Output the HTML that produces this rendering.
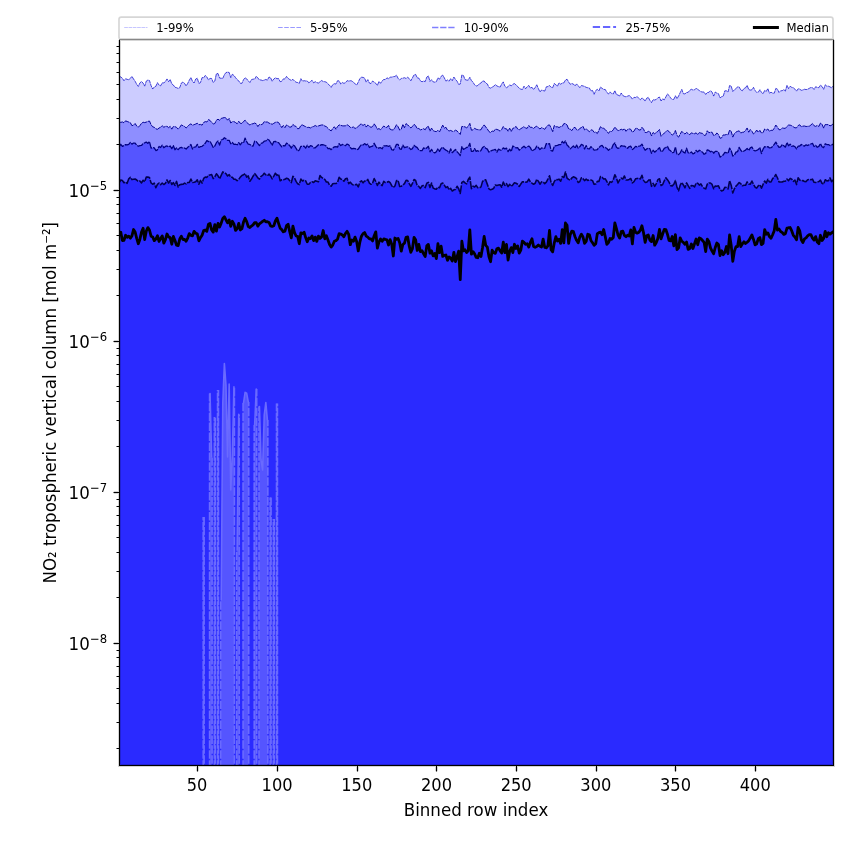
<!DOCTYPE html>
<html lang="en"><head><meta charset="utf-8"><title>NO2 tropospheric vertical column percentiles</title>
<style>html,body{margin:0;padding:0;background:#fff;overflow:hidden}svg{display:block}text{font-family:"DejaVu Sans","Liberation Sans",sans-serif;fill:#000}</style></head><body>
<svg width="850" height="850" viewBox="0 0 850 850">
<rect width="850" height="850" fill="#fff"/>
<clipPath id="ax"><rect x="119.0" y="39.4" width="714.0" height="725.6"/></clipPath>
<g clip-path="url(#ax)">
<path d="M119.19 76.25 L120.79 76.98 L122.38 78.27 L123.97 80.74 L125.57 78.74 L127.16 79.33 L128.76 79.74 L130.35 78.35 L131.94 76.4 L133.54 79 L135.13 81.24 L136.72 84.36 L138.32 86.43 L139.91 82.87 L141.51 81.53 L143.1 83.07 L144.69 86.14 L146.29 81.1 L147.88 80.06 L149.47 80.5 L151.07 85.59 L152.66 89.04 L154.26 87.01 L155.85 86.31 L157.44 82.65 L159.04 85.13 L160.63 85.84 L162.22 82.86 L163.82 82.85 L165.41 81.64 L167.01 78.93 L168.6 81.68 L170.19 79.47 L171.79 83.88 L173.38 85.04 L174.97 87.29 L176.57 87.68 L178.16 88.45 L179.76 87.65 L181.35 83.05 L182.94 82.04 L184.54 83.37 L186.13 85.92 L187.72 83.36 L189.32 80.16 L190.91 77.59 L192.51 81.27 L194.1 83.01 L195.69 79.08 L197.29 78.19 L198.88 83.39 L200.47 82.6 L202.07 77.58 L203.66 77.78 L205.26 75.44 L206.85 76.95 L208.44 79.88 L210.04 78.41 L211.63 78.49 L213.22 82.46 L214.82 81.01 L216.41 73.71 L218.01 73.53 L219.6 78.06 L221.19 78.24 L222.79 78.34 L224.38 74.72 L225.97 72.54 L227.57 72.19 L229.16 72.46 L230.76 77.63 L232.35 74.26 L233.94 75.46 L235.54 77.6 L237.13 79.66 L238.72 80.84 L240.32 83.27 L241.91 83.34 L243.51 79.69 L245.1 77.72 L246.69 78.9 L248.29 80.83 L249.88 82.52 L251.47 79.63 L253.07 79.14 L254.66 79.18 L256.26 76.25 L257.85 77.92 L259.44 79.93 L261.04 79.96 L262.63 80.58 L264.23 80.09 L265.82 79.46 L267.41 80.1 L269.01 77 L270.6 77.79 L272.19 81.19 L273.79 78.99 L275.38 77.86 L276.98 78.65 L278.57 78.57 L280.16 81.69 L281.76 81.24 L283.35 78.88 L284.94 78.94 L286.54 76.42 L288.13 78.39 L289.73 79.53 L291.32 80.44 L292.91 79.31 L294.51 81.06 L296.1 82.23 L297.69 82.55 L299.29 83.39 L300.88 78.67 L302.48 81.19 L304.07 80.67 L305.66 80.98 L307.26 80.93 L308.85 82.89 L310.44 81.62 L312.04 80.27 L313.63 82.83 L315.23 81.67 L316.82 82.62 L318.41 83.04 L320.01 81.77 L321.6 80.51 L323.19 81.51 L324.79 81.69 L326.38 82.13 L327.98 83.96 L329.57 85.28 L331.16 87.36 L332.76 84.63 L334.35 83.72 L335.94 84.06 L337.54 80.74 L339.13 80.95 L340.73 84.03 L342.32 82.54 L343.91 83.32 L345.51 82.69 L347.1 80.64 L348.69 81.1 L350.29 80.73 L351.88 80.98 L353.48 82.35 L355.07 83.75 L356.66 85 L358.26 82.15 L359.85 78.58 L361.44 77.28 L363.04 77.36 L364.63 78.18 L366.23 82.09 L367.82 79.64 L369.41 83.07 L371.01 83.5 L372.6 81.02 L374.19 82.18 L375.79 83.32 L377.38 85.42 L378.98 81.48 L380.57 83.31 L382.16 80.9 L383.76 79.53 L385.35 79.54 L386.94 77.84 L388.54 78.67 L390.13 77.21 L391.73 77.13 L393.32 76.66 L394.91 76.46 L396.51 75.18 L398.1 78.35 L399.69 79.96 L401.29 78.49 L402.88 78.18 L404.48 77.69 L406.07 78.51 L407.66 77.25 L409.26 78.62 L410.85 80.76 L412.44 77.84 L414.04 74.92 L415.63 74.41 L417.23 77.76 L418.82 78.11 L420.41 80.77 L422.01 81.8 L423.6 81.04 L425.19 81.6 L426.79 77.11 L428.38 75.93 L429.98 81.43 L431.57 79.68 L433.16 81.87 L434.76 82.16 L436.35 81.7 L437.94 77.8 L439.54 79.16 L441.13 76.35 L442.73 75.06 L444.32 77.86 L445.91 81.11 L447.51 80.01 L449.1 81.21 L450.69 78.68 L452.29 80.68 L453.88 77.04 L455.48 79.46 L457.07 81.18 L458.66 84.4 L460.26 84.04 L461.85 74.94 L463.44 75.59 L465.04 79.59 L466.63 80.05 L468.23 80.18 L469.82 77.27 L471.41 80.53 L473.01 82.2 L474.6 84.79 L476.19 86.01 L477.79 85.51 L479.38 83.83 L480.98 83 L482.57 81.04 L484.16 81.04 L485.76 83.14 L487.35 83.95 L488.94 87.44 L490.54 88.1 L492.13 87.18 L493.73 86.26 L495.32 84.57 L496.91 85.96 L498.51 86.62 L500.1 87.1 L501.69 84.01 L503.29 81.88 L504.88 86.22 L506.48 87.72 L508.07 86.68 L509.66 84.86 L511.26 85.9 L512.85 84.24 L514.44 83.57 L516.04 84.98 L517.63 86.41 L519.23 88.29 L520.82 89.16 L522.41 89.48 L524.01 86.18 L525.6 88.72 L527.19 86.79 L528.79 85.45 L530.38 88.04 L531.98 87.29 L533.57 89.53 L535.16 87.53 L536.76 84.77 L538.35 88.46 L539.94 91.99 L541.54 90.02 L543.13 90.56 L544.73 91.08 L546.32 86.84 L547.91 86.51 L549.51 85.52 L551.1 87.25 L552.69 87.66 L554.29 83.48 L555.88 84.82 L557.48 86.12 L559.07 82.85 L560.66 84.2 L562.26 83.08 L563.85 82.89 L565.44 80.06 L567.04 79.18 L568.63 82.05 L570.23 84.26 L571.82 83.57 L573.41 84.03 L575.01 85.91 L576.6 83.91 L578.19 85.69 L579.79 87.64 L581.38 85.55 L582.98 85.91 L584.57 86.43 L586.16 87.34 L587.76 87.74 L589.35 87.98 L590.94 90.89 L592.54 90.46 L594.13 94.29 L595.73 90.59 L597.32 89.34 L598.91 90.94 L600.51 87.08 L602.1 88.33 L603.69 89.43 L605.29 89.5 L606.88 92.43 L608.48 93.94 L610.07 91.88 L611.66 93.52 L613.26 93.98 L614.85 90.63 L616.44 94.55 L618.04 95.04 L619.63 96 L621.23 92.99 L622.82 95.51 L624.41 96.36 L626.01 96.84 L627.6 96.14 L629.19 95.51 L630.79 96.8 L632.38 99.09 L633.98 97.34 L635.57 97.54 L637.16 96.52 L638.76 98.35 L640.35 99.74 L641.94 97.94 L643.54 99.09 L645.13 101.04 L646.73 98.18 L648.32 97.36 L649.91 100.44 L651.51 102.6 L653.1 99.65 L654.69 100 L656.29 99.41 L657.88 97.81 L659.48 97.06 L661.07 100.97 L662.66 98.87 L664.26 99.82 L665.85 96.94 L667.44 93.94 L669.04 95.47 L670.63 97.96 L672.23 99.55 L673.82 99.34 L675.41 95.74 L677.01 98.65 L678.6 96 L680.19 92.65 L681.79 89.4 L683.38 93.72 L684.98 93.9 L686.57 92.5 L688.16 92.34 L689.76 90.35 L691.35 89.27 L692.94 90.01 L694.54 89.85 L696.13 88.24 L697.73 89.38 L699.32 90.53 L700.91 91.71 L702.51 91.99 L704.1 92.07 L705.69 94.46 L707.29 92.53 L708.88 92.35 L710.48 90.7 L712.07 92.09 L713.66 96.08 L715.26 92 L716.85 93.18 L718.44 93.63 L720.04 97.92 L721.63 96.68 L723.23 96.23 L724.82 90.83 L726.41 90.82 L728.01 92.05 L729.6 85.54 L731.19 86.1 L732.79 91.48 L734.38 89.81 L735.98 88.69 L737.57 86.8 L739.16 86.98 L740.76 89.97 L742.35 90.77 L743.94 88.5 L745.54 87.8 L747.13 85.38 L748.73 89.55 L750.32 90.07 L751.91 89.8 L753.51 87.35 L755.1 90.7 L756.69 92.25 L758.29 92.2 L759.88 89.7 L761.48 92.38 L763.07 93.77 L764.66 90.5 L766.26 91.35 L767.85 88.6 L769.44 93.22 L771.04 92.23 L772.63 93.14 L774.23 93.22 L775.82 88.45 L777.41 89.13 L779.01 92.46 L780.6 90.8 L782.19 90.73 L783.79 89.56 L785.38 91.1 L786.98 85.32 L788.57 88.61 L790.16 86.32 L791.76 87.39 L793.35 87.79 L794.94 89.13 L796.54 91.11 L798.13 88.75 L799.73 89.16 L801.32 90.3 L802.91 89.96 L804.51 89.24 L806.1 89.58 L807.69 89.24 L809.29 88.31 L810.88 87.51 L812.48 87.67 L814.07 89.5 L815.66 86.69 L817.26 87.46 L818.85 87.69 L820.44 85.13 L822.04 86.52 L823.63 89.31 L825.23 84.77 L826.82 86.2 L828.41 86.21 L830.01 86.86 L831.6 87.83 L833.19 85.97 L833.19 777 L119.19 777Z" fill="#0000ff" fill-opacity="0.2"/>
<path d="M119.19 121.74 L120.79 122.4 L122.38 121.94 L123.97 122.84 L125.57 120.85 L127.16 121.49 L128.76 122.07 L130.35 122.71 L131.94 125.68 L133.54 125.17 L135.13 123.53 L136.72 126.09 L138.32 127.16 L139.91 125.56 L141.51 123.3 L143.1 122.22 L144.69 122.6 L146.29 122.1 L147.88 121.41 L149.47 121.04 L151.07 124.71 L152.66 126.8 L154.26 127.31 L155.85 128.86 L157.44 129.28 L159.04 128.05 L160.63 127.18 L162.22 125.75 L163.82 127.24 L165.41 126.45 L167.01 126.27 L168.6 127.66 L170.19 126.38 L171.79 129.15 L173.38 126.48 L174.97 126.64 L176.57 127.39 L178.16 129.11 L179.76 127.33 L181.35 124.89 L182.94 125.76 L184.54 126.51 L186.13 127.98 L187.72 126.42 L189.32 124.74 L190.91 123.87 L192.51 125.22 L194.1 124.65 L195.69 124.02 L197.29 123.29 L198.88 124.73 L200.47 124.41 L202.07 125.17 L203.66 122.51 L205.26 121.61 L206.85 122.01 L208.44 119.58 L210.04 120.42 L211.63 122.43 L213.22 123.95 L214.82 123.53 L216.41 120.24 L218.01 119.17 L219.6 120.31 L221.19 118.4 L222.79 118 L224.38 117.54 L225.97 117.94 L227.57 120.18 L229.16 118.47 L230.76 123.01 L232.35 121.71 L233.94 121.57 L235.54 122.53 L237.13 123.74 L238.72 121.28 L240.32 123.34 L241.91 123.46 L243.51 121.46 L245.1 120.23 L246.69 122.42 L248.29 123.78 L249.88 124.98 L251.47 123.98 L253.07 123.79 L254.66 123.04 L256.26 123.85 L257.85 126.59 L259.44 124.48 L261.04 124.73 L262.63 124.15 L264.23 121.63 L265.82 122.04 L267.41 122.02 L269.01 123.14 L270.6 123.66 L272.19 124.3 L273.79 123.32 L275.38 122.36 L276.98 122.01 L278.57 122.48 L280.16 125.01 L281.76 127.61 L283.35 125.46 L284.94 127.65 L286.54 124.93 L288.13 125.92 L289.73 127.08 L291.32 127 L292.91 124.4 L294.51 125.85 L296.1 126.5 L297.69 128.76 L299.29 128.45 L300.88 125.39 L302.48 124.99 L304.07 125.92 L305.66 126.67 L307.26 127.46 L308.85 127.31 L310.44 127.93 L312.04 126.92 L313.63 126.48 L315.23 125.51 L316.82 126.38 L318.41 125.92 L320.01 125.42 L321.6 124.97 L323.19 124.98 L324.79 126.06 L326.38 126.7 L327.98 128.27 L329.57 129.93 L331.16 130.9 L332.76 128.52 L334.35 126.74 L335.94 129.22 L337.54 126.5 L339.13 124.93 L340.73 125.35 L342.32 125.8 L343.91 125.91 L345.51 125.75 L347.1 124.72 L348.69 125.65 L350.29 127.39 L351.88 127.45 L353.48 127 L355.07 128.49 L356.66 127.68 L358.26 126.57 L359.85 124.68 L361.44 123.74 L363.04 125.7 L364.63 123.97 L366.23 127.06 L367.82 124.96 L369.41 126.27 L371.01 127.41 L372.6 126.52 L374.19 123.87 L375.79 126.15 L377.38 129.28 L378.98 128.58 L380.57 129.71 L382.16 127.83 L383.76 125.98 L385.35 127.21 L386.94 127.41 L388.54 125.36 L390.13 129.33 L391.73 129.86 L393.32 129.96 L394.91 127.71 L396.51 124.72 L398.1 126.8 L399.69 130.1 L401.29 129.14 L402.88 124.38 L404.48 127.79 L406.07 123.59 L407.66 125.03 L409.26 126.2 L410.85 127.92 L412.44 126.53 L414.04 124.3 L415.63 125.72 L417.23 128.62 L418.82 128.48 L420.41 129.86 L422.01 129.38 L423.6 128.69 L425.19 129.77 L426.79 127.07 L428.38 126.43 L429.98 131.13 L431.57 128.11 L433.16 130.65 L434.76 131.34 L436.35 131.6 L437.94 130.21 L439.54 131.85 L441.13 128.42 L442.73 125.12 L444.32 128.17 L445.91 127.25 L447.51 130.12 L449.1 130.96 L450.69 130.41 L452.29 131.3 L453.88 131.4 L455.48 130.19 L457.07 130.92 L458.66 132.8 L460.26 134.44 L461.85 126.42 L463.44 126.66 L465.04 126.88 L466.63 127.79 L468.23 126.35 L469.82 123.36 L471.41 130.19 L473.01 129.93 L474.6 128.32 L476.19 129.26 L477.79 129.64 L479.38 129.89 L480.98 129.76 L482.57 126.77 L484.16 124.91 L485.76 126.99 L487.35 129 L488.94 131.54 L490.54 132.61 L492.13 130.97 L493.73 131.42 L495.32 129.17 L496.91 129.42 L498.51 130.05 L500.1 131.12 L501.69 129.46 L503.29 126.55 L504.88 128.72 L506.48 128.77 L508.07 131.27 L509.66 128.15 L511.26 131.51 L512.85 128.3 L514.44 127.84 L516.04 126.41 L517.63 128.96 L519.23 129.86 L520.82 128.68 L522.41 127.7 L524.01 126.54 L525.6 128.18 L527.19 128.26 L528.79 125.5 L530.38 127.36 L531.98 127.3 L533.57 128.47 L535.16 126.99 L536.76 126.28 L538.35 127.62 L539.94 128.96 L541.54 127.69 L543.13 128.3 L544.73 129.34 L546.32 126.97 L547.91 125.27 L549.51 124.9 L551.1 127.89 L552.69 131.68 L554.29 125.49 L555.88 126.88 L557.48 126.78 L559.07 127.56 L560.66 126.6 L562.26 126.32 L563.85 123.63 L565.44 123.7 L567.04 124.96 L568.63 129 L570.23 129.14 L571.82 130.65 L573.41 128.04 L575.01 127.27 L576.6 129.74 L578.19 130.24 L579.79 128.42 L581.38 127.57 L582.98 126.27 L584.57 129.88 L586.16 128.88 L587.76 130.22 L589.35 131.73 L590.94 129.88 L592.54 130.14 L594.13 132.41 L595.73 132.11 L597.32 133.54 L598.91 130.3 L600.51 126.7 L602.1 128.11 L603.69 128.29 L605.29 129.58 L606.88 131.33 L608.48 133.42 L610.07 131.16 L611.66 131.57 L613.26 129.78 L614.85 127.11 L616.44 128.98 L618.04 130.78 L619.63 130.12 L621.23 129.24 L622.82 129.98 L624.41 128.71 L626.01 131.29 L627.6 129.41 L629.19 128.91 L630.79 129.35 L632.38 132.22 L633.98 131.15 L635.57 128.45 L637.16 128.2 L638.76 129.92 L640.35 130.06 L641.94 127.34 L643.54 129.13 L645.13 132.53 L646.73 132.48 L648.32 131.38 L649.91 131.64 L651.51 135.92 L653.1 132.48 L654.69 133.81 L656.29 132.45 L657.88 131.36 L659.48 129.5 L661.07 136.3 L662.66 134.68 L664.26 133.06 L665.85 131.67 L667.44 130.52 L669.04 131.46 L670.63 133.31 L672.23 135.13 L673.82 133.85 L675.41 130.47 L677.01 135.55 L678.6 137.13 L680.19 134.16 L681.79 131.32 L683.38 133 L684.98 134.03 L686.57 132.43 L688.16 133.6 L689.76 134.72 L691.35 132.83 L692.94 133.45 L694.54 133.72 L696.13 132.84 L697.73 134.59 L699.32 132.61 L700.91 133.14 L702.51 133.37 L704.1 135.4 L705.69 135.19 L707.29 130.75 L708.88 132.74 L710.48 132.26 L712.07 132.23 L713.66 135.51 L715.26 135.08 L716.85 132.97 L718.44 134.49 L720.04 138.28 L721.63 137.81 L723.23 134.91 L724.82 135 L726.41 134.47 L728.01 134.89 L729.6 130.17 L731.19 131.38 L732.79 137.12 L734.38 133.63 L735.98 132.11 L737.57 131.35 L739.16 130.85 L740.76 133 L742.35 132.32 L743.94 132.1 L745.54 130.51 L747.13 127.96 L748.73 132.21 L750.32 129.53 L751.91 131.24 L753.51 133.97 L755.1 132.59 L756.69 130 L758.29 132.32 L759.88 130.37 L761.48 133 L763.07 132.63 L764.66 128.98 L766.26 130.14 L767.85 128.99 L769.44 131.31 L771.04 130.24 L772.63 130.46 L774.23 128.22 L775.82 125.04 L777.41 127.16 L779.01 129.76 L780.6 129.64 L782.19 127.91 L783.79 128.26 L785.38 128.38 L786.98 126.41 L788.57 125.07 L790.16 125.15 L791.76 125.75 L793.35 126.8 L794.94 127.85 L796.54 127.79 L798.13 125.55 L799.73 124.76 L801.32 126.77 L802.91 126.12 L804.51 126 L806.1 126.51 L807.69 126.33 L809.29 126.19 L810.88 125.03 L812.48 123.45 L814.07 125.74 L815.66 126.38 L817.26 125.44 L818.85 126.48 L820.44 123.11 L822.04 124.25 L823.63 128.11 L825.23 124.52 L826.82 124.62 L828.41 124.65 L830.01 125.87 L831.6 125.32 L833.19 123.52 L833.19 777 L119.19 777Z" fill="#0000ff" fill-opacity="0.3"/>
<path d="M119.19 146.46 L120.79 144.29 L122.38 146.38 L123.97 145.57 L125.57 144.66 L127.16 144.85 L128.76 144.32 L130.35 142.43 L131.94 144.11 L133.54 143.05 L135.13 143.03 L136.72 145.27 L138.32 146.29 L139.91 145.6 L141.51 145.48 L143.1 143.52 L144.69 142.92 L146.29 142.06 L147.88 143.4 L149.47 141.64 L151.07 148.17 L152.66 147.7 L154.26 147.82 L155.85 150.55 L157.44 149.85 L159.04 146.41 L160.63 147.47 L162.22 145.17 L163.82 147.72 L165.41 146.43 L167.01 145.89 L168.6 147.08 L170.19 145.98 L171.79 148.66 L173.38 145.63 L174.97 149.73 L176.57 147.98 L178.16 149.69 L179.76 147.87 L181.35 147.38 L182.94 148.4 L184.54 148 L186.13 149.02 L187.72 147.32 L189.32 146.11 L190.91 144.44 L192.51 149.02 L194.1 147.03 L195.69 146.97 L197.29 144.31 L198.88 147.44 L200.47 146.61 L202.07 146.34 L203.66 145.08 L205.26 143.22 L206.85 140.58 L208.44 141.63 L210.04 141.38 L211.63 144.2 L213.22 147.38 L214.82 145.95 L216.41 142.66 L218.01 141.06 L219.6 145.06 L221.19 140 L222.79 139.51 L224.38 137.71 L225.97 138.83 L227.57 140.41 L229.16 140.32 L230.76 143.76 L232.35 142.51 L233.94 144.38 L235.54 144.24 L237.13 144.77 L238.72 142.58 L240.32 144.78 L241.91 142.5 L243.51 142.96 L245.1 138.07 L246.69 141.58 L248.29 144.24 L249.88 144.49 L251.47 145.78 L253.07 146.08 L254.66 141.09 L256.26 141.64 L257.85 143.58 L259.44 145.57 L261.04 143.32 L262.63 142.94 L264.23 141.2 L265.82 140.96 L267.41 139.31 L269.01 140.01 L270.6 142.49 L272.19 145.19 L273.79 141.56 L275.38 141.37 L276.98 142.46 L278.57 142.52 L280.16 144.75 L281.76 146.87 L283.35 145.58 L284.94 145.82 L286.54 143.08 L288.13 144.08 L289.73 145.72 L291.32 148.17 L292.91 145.18 L294.51 145.92 L296.1 148.31 L297.69 151.07 L299.29 149.96 L300.88 146.29 L302.48 146.57 L304.07 146.05 L305.66 148.06 L307.26 145.26 L308.85 147.43 L310.44 145.56 L312.04 146.08 L313.63 147.82 L315.23 147.8 L316.82 146.22 L318.41 144.71 L320.01 145.39 L321.6 144.63 L323.19 144.75 L324.79 145.24 L326.38 146.23 L327.98 148.57 L329.57 148.35 L331.16 149.68 L332.76 147.97 L334.35 146.86 L335.94 146.68 L337.54 147.13 L339.13 143.56 L340.73 145.59 L342.32 144.44 L343.91 145.24 L345.51 145.64 L347.1 144.05 L348.69 144.75 L350.29 147.47 L351.88 148.94 L353.48 148.33 L355.07 148.53 L356.66 149.72 L358.26 149.08 L359.85 146.63 L361.44 144.64 L363.04 145 L364.63 143.62 L366.23 144.88 L367.82 144.16 L369.41 147.55 L371.01 146.56 L372.6 146.18 L374.19 143.25 L375.79 146.41 L377.38 148.46 L378.98 147.92 L380.57 147.73 L382.16 148.81 L383.76 145.81 L385.35 145.91 L386.94 145.71 L388.54 146.45 L390.13 145.66 L391.73 149.7 L393.32 150.24 L394.91 147.73 L396.51 144.36 L398.1 144.37 L399.69 148.82 L401.29 149.28 L402.88 145.12 L404.48 147.63 L406.07 147.11 L407.66 146.8 L409.26 147.92 L410.85 149.5 L412.44 148.59 L414.04 145.35 L415.63 146.65 L417.23 147.61 L418.82 150.03 L420.41 150.71 L422.01 150.69 L423.6 147.9 L425.19 148.83 L426.79 147.91 L428.38 146.31 L429.98 151.85 L431.57 149.31 L433.16 152.22 L434.76 152.88 L436.35 151.75 L437.94 148.7 L439.54 151.43 L441.13 148.5 L442.73 147.24 L444.32 148.98 L445.91 150.12 L447.51 150.99 L449.1 153.03 L450.69 148.83 L452.29 152.7 L453.88 150.96 L455.48 149.44 L457.07 151.79 L458.66 153.4 L460.26 155.65 L461.85 146.64 L463.44 149.34 L465.04 148.44 L466.63 147.45 L468.23 146.97 L469.82 143.3 L471.41 151.46 L473.01 151.39 L474.6 148.66 L476.19 151.34 L477.79 150.67 L479.38 151.63 L480.98 150.38 L482.57 147.54 L484.16 146.48 L485.76 148.21 L487.35 149.09 L488.94 152.08 L490.54 151.04 L492.13 150.37 L493.73 149.95 L495.32 149.39 L496.91 152.09 L498.51 149.14 L500.1 150.06 L501.69 150.02 L503.29 147.85 L504.88 148.84 L506.48 148.08 L508.07 151.66 L509.66 149.17 L511.26 151.47 L512.85 145.9 L514.44 147 L516.04 147.83 L517.63 147.71 L519.23 150.25 L520.82 148.71 L522.41 147.59 L524.01 146.23 L525.6 147.74 L527.19 146.85 L528.79 146.08 L530.38 147.62 L531.98 151.01 L533.57 150 L535.16 149.07 L536.76 146.16 L538.35 147.5 L539.94 149.59 L541.54 147.91 L543.13 148.64 L544.73 148.22 L546.32 143.56 L547.91 144.19 L549.51 143.57 L551.1 150.55 L552.69 151.03 L554.29 146.17 L555.88 145.68 L557.48 145.32 L559.07 144.71 L560.66 144.72 L562.26 141.41 L563.85 143.08 L565.44 140.95 L567.04 145.04 L568.63 146.52 L570.23 148.89 L571.82 147.35 L573.41 145.87 L575.01 148.21 L576.6 145.04 L578.19 148.12 L579.79 146.8 L581.38 144.47 L582.98 145.05 L584.57 149.01 L586.16 145.57 L587.76 148.64 L589.35 148.9 L590.94 146.63 L592.54 148.02 L594.13 150.08 L595.73 149.89 L597.32 149.53 L598.91 147.67 L600.51 146.01 L602.1 145.4 L603.69 147.53 L605.29 147.4 L606.88 148.53 L608.48 150.33 L610.07 148.85 L611.66 148.38 L613.26 144.61 L614.85 142.98 L616.44 147.24 L618.04 148.42 L619.63 147.69 L621.23 145.57 L622.82 146.01 L624.41 146.12 L626.01 147.09 L627.6 148.25 L629.19 146.54 L630.79 146.23 L632.38 149.54 L633.98 148.19 L635.57 146.38 L637.16 146.93 L638.76 146.22 L640.35 145.83 L641.94 144.11 L643.54 147.47 L645.13 150.3 L646.73 148.91 L648.32 148.13 L649.91 148.78 L651.51 153.31 L653.1 150.22 L654.69 152.19 L656.29 150.86 L657.88 149.29 L659.48 147.6 L661.07 151.78 L662.66 151.04 L664.26 148.34 L665.85 147.53 L667.44 146.4 L669.04 149.65 L670.63 150.86 L672.23 152.67 L673.82 152.36 L675.41 146.92 L677.01 154.4 L678.6 154.56 L680.19 152.86 L681.79 149.7 L683.38 152.09 L684.98 153.07 L686.57 148.13 L688.16 152.77 L689.76 153.32 L691.35 151.94 L692.94 153.95 L694.54 153.09 L696.13 150.36 L697.73 151.93 L699.32 150.27 L700.91 151.03 L702.51 152.22 L704.1 154.33 L705.69 153.37 L707.29 149.87 L708.88 150.4 L710.48 151.81 L712.07 151.03 L713.66 153.21 L715.26 151.38 L716.85 151.31 L718.44 152.19 L720.04 157.13 L721.63 156 L723.23 154.88 L724.82 152.43 L726.41 152.73 L728.01 153.47 L729.6 148.1 L731.19 150.58 L732.79 156.05 L734.38 155.14 L735.98 152.13 L737.57 151.71 L739.16 147.33 L740.76 150.26 L742.35 151.98 L743.94 151.03 L745.54 150.08 L747.13 148.4 L748.73 150.44 L750.32 147.89 L751.91 146.98 L753.51 149.98 L755.1 150.98 L756.69 150.4 L758.29 149.54 L759.88 147.7 L761.48 153.58 L763.07 149.16 L764.66 146.71 L766.26 147.26 L767.85 146.59 L769.44 147.95 L771.04 147.73 L772.63 146.39 L774.23 144.44 L775.82 142.09 L777.41 145.01 L779.01 147.41 L780.6 146.82 L782.19 144.74 L783.79 145.84 L785.38 147.17 L786.98 142.58 L788.57 145.76 L790.16 144.11 L791.76 146.25 L793.35 145.79 L794.94 146.72 L796.54 148.94 L798.13 146.23 L799.73 146.03 L801.32 144.51 L802.91 145.41 L804.51 146.1 L806.1 144.83 L807.69 145.53 L809.29 144.61 L810.88 143.97 L812.48 143.32 L814.07 146.52 L815.66 145.33 L817.26 147.26 L818.85 146.41 L820.44 143.59 L822.04 146.72 L823.63 147.63 L825.23 143.74 L826.82 144.52 L828.41 144.56 L830.01 145.54 L831.6 145.01 L833.19 144.07 L833.19 777 L119.19 777Z" fill="#0000ff" fill-opacity="0.4"/>
<path d="M119.19 182.53 L120.79 179.99 L122.38 180.55 L123.97 182.7 L125.57 182 L127.16 183.35 L128.76 178.81 L130.35 177.34 L131.94 179.61 L133.54 179.21 L135.13 179.02 L136.72 179.97 L138.32 181.53 L139.91 180.97 L141.51 182.94 L143.1 180.26 L144.69 181.8 L146.29 177.03 L147.88 177.12 L149.47 177.48 L151.07 182.94 L152.66 184.25 L154.26 183.13 L155.85 187.69 L157.44 184.4 L159.04 183 L160.63 184.59 L162.22 183.03 L163.82 184.49 L165.41 183.38 L167.01 179.86 L168.6 183.15 L170.19 180.52 L171.79 184.44 L173.38 182.63 L174.97 185.46 L176.57 181.39 L178.16 186.93 L179.76 184.79 L181.35 184.38 L182.94 184.32 L184.54 183.11 L186.13 183.93 L187.72 182.52 L189.32 182.35 L190.91 179.06 L192.51 182.44 L194.1 182.23 L195.69 181.71 L197.29 179.86 L198.88 184.2 L200.47 180.41 L202.07 183.15 L203.66 178.41 L205.26 177.09 L206.85 177.37 L208.44 175.38 L210.04 174.94 L211.63 174.49 L213.22 178.59 L214.82 176.87 L216.41 173.76 L218.01 175.84 L219.6 178.74 L221.19 175.3 L222.79 171.93 L224.38 172.67 L225.97 173.57 L227.57 176 L229.16 174.59 L230.76 177.34 L232.35 177.3 L233.94 179.34 L235.54 179.31 L237.13 180.73 L238.72 179.42 L240.32 177.16 L241.91 175.52 L243.51 174.78 L245.1 173.6 L246.69 177.17 L248.29 175.94 L249.88 181.23 L251.47 179.09 L253.07 176.23 L254.66 173.55 L256.26 175.5 L257.85 177.89 L259.44 179.14 L261.04 176.31 L262.63 175.37 L264.23 173.22 L265.82 174.81 L267.41 175.74 L269.01 174.09 L270.6 175.93 L272.19 178.82 L273.79 176.18 L275.38 173.24 L276.98 175.33 L278.57 174.16 L280.16 180.78 L281.76 179.73 L283.35 179.69 L284.94 179.35 L286.54 178.18 L288.13 178.76 L289.73 180.64 L291.32 182.58 L292.91 176.28 L294.51 178.07 L296.1 181.44 L297.69 183.82 L299.29 184.57 L300.88 179.02 L302.48 181.02 L304.07 180.27 L305.66 180.81 L307.26 184.27 L308.85 184.18 L310.44 182.44 L312.04 181.73 L313.63 182.42 L315.23 180.83 L316.82 181.26 L318.41 181.77 L320.01 175.55 L321.6 177.46 L323.19 178.5 L324.79 179.43 L326.38 181.98 L327.98 182.05 L329.57 185.09 L331.16 186.21 L332.76 183.76 L334.35 183.41 L335.94 183.58 L337.54 182.37 L339.13 177.35 L340.73 179.05 L342.32 179.55 L343.91 181.24 L345.51 178.75 L347.1 178.28 L348.69 183.64 L350.29 182.17 L351.88 184.06 L353.48 184.97 L355.07 184.85 L356.66 184.37 L358.26 186.89 L359.85 182.17 L361.44 180.74 L363.04 182.87 L364.63 180.95 L366.23 181.28 L367.82 179.44 L369.41 183.13 L371.01 184.29 L372.6 183.01 L374.19 178.5 L375.79 181.65 L377.38 185.46 L378.98 182.14 L380.57 184.33 L382.16 185.57 L383.76 181.25 L385.35 182.53 L386.94 182.27 L388.54 181.51 L390.13 182.64 L391.73 185.64 L393.32 187.45 L394.91 186.02 L396.51 180.62 L398.1 180.42 L399.69 186.46 L401.29 186.31 L402.88 184.89 L404.48 183.54 L406.07 180.38 L407.66 180.52 L409.26 183.53 L410.85 186.34 L412.44 183.48 L414.04 179.5 L415.63 180.48 L417.23 185.63 L418.82 186.42 L420.41 188.41 L422.01 185.87 L423.6 185.5 L425.19 187.63 L426.79 183.21 L428.38 182.35 L429.98 187.43 L431.57 183.07 L433.16 188.03 L434.76 188.92 L436.35 189.14 L437.94 187.14 L439.54 187.79 L441.13 183.69 L442.73 183.06 L444.32 185.08 L445.91 187.61 L447.51 186.6 L449.1 189.85 L450.69 188.31 L452.29 191.04 L453.88 189.77 L455.48 189.41 L457.07 186.23 L458.66 188.75 L460.26 193.47 L461.85 182.34 L463.44 181.4 L465.04 182.93 L466.63 183.93 L468.23 179.52 L469.82 177.11 L471.41 188.64 L473.01 186.1 L474.6 186.99 L476.19 185.35 L477.79 187.74 L479.38 187.9 L480.98 186.89 L482.57 181.39 L484.16 180.12 L485.76 179.89 L487.35 184.37 L488.94 188.84 L490.54 189.8 L492.13 189.33 L493.73 188.24 L495.32 184.95 L496.91 185.56 L498.51 185.09 L500.1 184.69 L501.69 187.22 L503.29 182.09 L504.88 185.45 L506.48 183.55 L508.07 186.63 L509.66 184.29 L511.26 186.41 L512.85 184.83 L514.44 182.82 L516.04 183.19 L517.63 184.25 L519.23 186.46 L520.82 184.04 L522.41 181.75 L524.01 181.9 L525.6 182.11 L527.19 181.97 L528.79 179.07 L530.38 181.98 L531.98 183.2 L533.57 184.25 L535.16 183.25 L536.76 179.36 L538.35 181.16 L539.94 184.2 L541.54 181.9 L543.13 181.9 L544.73 183.68 L546.32 182.17 L547.91 179.06 L549.51 175.75 L551.1 182.57 L552.69 185.45 L554.29 181.53 L555.88 179.31 L557.48 179.81 L559.07 179.09 L560.66 181.27 L562.26 176.6 L563.85 177.46 L565.44 171.95 L567.04 178.05 L568.63 179.34 L570.23 180.21 L571.82 177.96 L573.41 176.76 L575.01 177.47 L576.6 178.72 L578.19 182.55 L579.79 181.56 L581.38 177.69 L582.98 178.69 L584.57 180.61 L586.16 179.07 L587.76 180.46 L589.35 179.96 L590.94 179.94 L592.54 180.66 L594.13 184.35 L595.73 183.98 L597.32 181.38 L598.91 181.43 L600.51 176.55 L602.1 177.32 L603.69 179 L605.29 178.82 L606.88 181.52 L608.48 184.94 L610.07 181.7 L611.66 182.35 L613.26 179.88 L614.85 174.7 L616.44 178.03 L618.04 182.93 L619.63 179.9 L621.23 178.11 L622.82 179 L624.41 175.96 L626.01 180 L627.6 179.99 L629.19 179.4 L630.79 178.45 L632.38 182.89 L633.98 181.6 L635.57 178.81 L637.16 178.41 L638.76 178.09 L640.35 178.97 L641.94 175.29 L643.54 180.36 L645.13 182.39 L646.73 182.19 L648.32 180.52 L649.91 178.94 L651.51 186.34 L653.1 183.28 L654.69 186.43 L656.29 183.52 L657.88 179.68 L659.48 178.75 L661.07 185.5 L662.66 184.5 L664.26 180.78 L665.85 177.77 L667.44 179.67 L669.04 182.15 L670.63 185.61 L672.23 185.88 L673.82 184.24 L675.41 180.44 L677.01 187.45 L678.6 190.91 L680.19 185.16 L681.79 182.43 L683.38 184.96 L684.98 187.88 L686.57 182.89 L688.16 185.7 L689.76 188.33 L691.35 185.48 L692.94 185.7 L694.54 186.94 L696.13 183.04 L697.73 183.21 L699.32 185.07 L700.91 183.92 L702.51 186.77 L704.1 188.23 L705.69 188.89 L707.29 184.09 L708.88 182.97 L710.48 183.02 L712.07 184.45 L713.66 188.78 L715.26 185.92 L716.85 186.34 L718.44 185.84 L720.04 189.24 L721.63 190.93 L723.23 190.29 L724.82 187.35 L726.41 187.59 L728.01 189.02 L729.6 180.6 L731.19 185.14 L732.79 193.08 L734.38 188.76 L735.98 186.15 L737.57 184.48 L739.16 182.6 L740.76 183.68 L742.35 185.79 L743.94 185.27 L745.54 185.33 L747.13 181.93 L748.73 183.99 L750.32 184.19 L751.91 181 L753.51 184.35 L755.1 187.2 L756.69 188.09 L758.29 185.8 L759.88 184.76 L761.48 188.22 L763.07 184.4 L764.66 180.99 L766.26 183.15 L767.85 179.19 L769.44 181.94 L771.04 181.95 L772.63 178.63 L774.23 177.25 L775.82 174.47 L777.41 177.72 L779.01 181.87 L780.6 182.05 L782.19 181.96 L783.79 181.2 L785.38 181.15 L786.98 179.05 L788.57 180.67 L790.16 178.33 L791.76 179.24 L793.35 181.35 L794.94 180 L796.54 184.59 L798.13 177.77 L799.73 180.04 L801.32 180.97 L802.91 180.5 L804.51 181.56 L806.1 181.61 L807.69 179.67 L809.29 179.37 L810.88 179.76 L812.48 179.1 L814.07 182.34 L815.66 182.54 L817.26 182.01 L818.85 181.54 L820.44 180.17 L822.04 183.3 L823.63 184.04 L825.23 179.69 L826.82 180.85 L828.41 180.78 L830.01 177.84 L831.6 181.65 L833.19 179.88 L833.19 777 L276.98 777 L276.98 403.5 L276.97 777 L273.79 777 L273.79 519 L273.78 777 L270.6 777 L270.6 497.6 L270.6 777 L267.42 777 L267.41 420 L265.82 402.6 L264.23 415 L262.63 470 L261.04 460 L259.44 406.5 L259.44 777 L256.26 777 L256.26 389.1 L254.66 425 L254.66 777 L248.29 777 L248.29 402 L246.69 393.3 L245.1 392.4 L243.51 403 L243.5 777 L238.73 777 L238.72 414.4 L237.13 550 L237.13 777 L233.95 777 L233.94 386.7 L232.35 455 L230.76 490 L229.16 384 L227.57 457 L225.97 385 L224.38 363.5 L222.79 403 L221.19 600 L221.19 777 L218.01 777 L218.01 390 L218 777 L214.82 777 L214.82 417 L214.81 777 L211.63 777 L211.63 457 L210.04 393.5 L210.03 777 L203.67 777 L203.66 517 L203.66 777 L119.19 777Z" fill="#0000ff" fill-opacity="0.5"/>
<path d="M203.26 777 V517 M209.64 777 V393.5 M214.42 777 V417 M217.61 777 V390 M220.79 777 V600 M236.73 777 V550 M243.11 777 V403 M254.26 777 V425 M259.04 777 V406.5 M270.2 777 V497.6 M273.39 777 V519 M276.58 777 V403.5" fill="none" stroke="#6a6aff" stroke-width="1.7" stroke-dasharray="8.48 1.45" stroke-dashoffset="1.62"/>
<path d="M204.06 777 V517 M212.03 777 V457 M215.22 777 V417 M218.41 777 V390 M234.34 777 V386.7 M239.12 777 V414.4 M248.69 777 V402 M256.66 777 V389.1 M267.81 777 V420 M271 777 V497.6 M274.19 777 V519 M277.38 777 V403.5" fill="none" stroke="#6a6aff" stroke-width="1.7" stroke-dasharray="8.48 1.45" stroke-dashoffset="6.62"/>
<path d="M210.04 393.5 L211.63 457 M221.19 600 L222.79 403 L224.38 363.5 L225.97 385 L227.57 457 L229.16 384 L230.76 490 L232.35 455 L233.94 386.7 M237.13 550 L238.72 414.4 M243.51 403 L245.1 392.4 L246.69 393.3 L248.29 402 M254.66 425 L256.26 389.1 M259.44 406.5 L261.04 460 L262.63 470 L264.23 415 L265.82 402.6 L267.41 420" fill="none" stroke="#6a6aff" stroke-width="1.6" stroke-linejoin="round" stroke-linecap="round"/>
<path d="M119.19 76.25 L120.79 76.98 L122.38 78.27 L123.97 80.74 L125.57 78.74 L127.16 79.33 L128.76 79.74 L130.35 78.35 L131.94 76.4 L133.54 79 L135.13 81.24 L136.72 84.36 L138.32 86.43 L139.91 82.87 L141.51 81.53 L143.1 83.07 L144.69 86.14 L146.29 81.1 L147.88 80.06 L149.47 80.5 L151.07 85.59 L152.66 89.04 L154.26 87.01 L155.85 86.31 L157.44 82.65 L159.04 85.13 L160.63 85.84 L162.22 82.86 L163.82 82.85 L165.41 81.64 L167.01 78.93 L168.6 81.68 L170.19 79.47 L171.79 83.88 L173.38 85.04 L174.97 87.29 L176.57 87.68 L178.16 88.45 L179.76 87.65 L181.35 83.05 L182.94 82.04 L184.54 83.37 L186.13 85.92 L187.72 83.36 L189.32 80.16 L190.91 77.59 L192.51 81.27 L194.1 83.01 L195.69 79.08 L197.29 78.19 L198.88 83.39 L200.47 82.6 L202.07 77.58 L203.66 77.78 L205.26 75.44 L206.85 76.95 L208.44 79.88 L210.04 78.41 L211.63 78.49 L213.22 82.46 L214.82 81.01 L216.41 73.71 L218.01 73.53 L219.6 78.06 L221.19 78.24 L222.79 78.34 L224.38 74.72 L225.97 72.54 L227.57 72.19 L229.16 72.46 L230.76 77.63 L232.35 74.26 L233.94 75.46 L235.54 77.6 L237.13 79.66 L238.72 80.84 L240.32 83.27 L241.91 83.34 L243.51 79.69 L245.1 77.72 L246.69 78.9 L248.29 80.83 L249.88 82.52 L251.47 79.63 L253.07 79.14 L254.66 79.18 L256.26 76.25 L257.85 77.92 L259.44 79.93 L261.04 79.96 L262.63 80.58 L264.23 80.09 L265.82 79.46 L267.41 80.1 L269.01 77 L270.6 77.79 L272.19 81.19 L273.79 78.99 L275.38 77.86 L276.98 78.65 L278.57 78.57 L280.16 81.69 L281.76 81.24 L283.35 78.88 L284.94 78.94 L286.54 76.42 L288.13 78.39 L289.73 79.53 L291.32 80.44 L292.91 79.31 L294.51 81.06 L296.1 82.23 L297.69 82.55 L299.29 83.39 L300.88 78.67 L302.48 81.19 L304.07 80.67 L305.66 80.98 L307.26 80.93 L308.85 82.89 L310.44 81.62 L312.04 80.27 L313.63 82.83 L315.23 81.67 L316.82 82.62 L318.41 83.04 L320.01 81.77 L321.6 80.51 L323.19 81.51 L324.79 81.69 L326.38 82.13 L327.98 83.96 L329.57 85.28 L331.16 87.36 L332.76 84.63 L334.35 83.72 L335.94 84.06 L337.54 80.74 L339.13 80.95 L340.73 84.03 L342.32 82.54 L343.91 83.32 L345.51 82.69 L347.1 80.64 L348.69 81.1 L350.29 80.73 L351.88 80.98 L353.48 82.35 L355.07 83.75 L356.66 85 L358.26 82.15 L359.85 78.58 L361.44 77.28 L363.04 77.36 L364.63 78.18 L366.23 82.09 L367.82 79.64 L369.41 83.07 L371.01 83.5 L372.6 81.02 L374.19 82.18 L375.79 83.32 L377.38 85.42 L378.98 81.48 L380.57 83.31 L382.16 80.9 L383.76 79.53 L385.35 79.54 L386.94 77.84 L388.54 78.67 L390.13 77.21 L391.73 77.13 L393.32 76.66 L394.91 76.46 L396.51 75.18 L398.1 78.35 L399.69 79.96 L401.29 78.49 L402.88 78.18 L404.48 77.69 L406.07 78.51 L407.66 77.25 L409.26 78.62 L410.85 80.76 L412.44 77.84 L414.04 74.92 L415.63 74.41 L417.23 77.76 L418.82 78.11 L420.41 80.77 L422.01 81.8 L423.6 81.04 L425.19 81.6 L426.79 77.11 L428.38 75.93 L429.98 81.43 L431.57 79.68 L433.16 81.87 L434.76 82.16 L436.35 81.7 L437.94 77.8 L439.54 79.16 L441.13 76.35 L442.73 75.06 L444.32 77.86 L445.91 81.11 L447.51 80.01 L449.1 81.21 L450.69 78.68 L452.29 80.68 L453.88 77.04 L455.48 79.46 L457.07 81.18 L458.66 84.4 L460.26 84.04 L461.85 74.94 L463.44 75.59 L465.04 79.59 L466.63 80.05 L468.23 80.18 L469.82 77.27 L471.41 80.53 L473.01 82.2 L474.6 84.79 L476.19 86.01 L477.79 85.51 L479.38 83.83 L480.98 83 L482.57 81.04 L484.16 81.04 L485.76 83.14 L487.35 83.95 L488.94 87.44 L490.54 88.1 L492.13 87.18 L493.73 86.26 L495.32 84.57 L496.91 85.96 L498.51 86.62 L500.1 87.1 L501.69 84.01 L503.29 81.88 L504.88 86.22 L506.48 87.72 L508.07 86.68 L509.66 84.86 L511.26 85.9 L512.85 84.24 L514.44 83.57 L516.04 84.98 L517.63 86.41 L519.23 88.29 L520.82 89.16 L522.41 89.48 L524.01 86.18 L525.6 88.72 L527.19 86.79 L528.79 85.45 L530.38 88.04 L531.98 87.29 L533.57 89.53 L535.16 87.53 L536.76 84.77 L538.35 88.46 L539.94 91.99 L541.54 90.02 L543.13 90.56 L544.73 91.08 L546.32 86.84 L547.91 86.51 L549.51 85.52 L551.1 87.25 L552.69 87.66 L554.29 83.48 L555.88 84.82 L557.48 86.12 L559.07 82.85 L560.66 84.2 L562.26 83.08 L563.85 82.89 L565.44 80.06 L567.04 79.18 L568.63 82.05 L570.23 84.26 L571.82 83.57 L573.41 84.03 L575.01 85.91 L576.6 83.91 L578.19 85.69 L579.79 87.64 L581.38 85.55 L582.98 85.91 L584.57 86.43 L586.16 87.34 L587.76 87.74 L589.35 87.98 L590.94 90.89 L592.54 90.46 L594.13 94.29 L595.73 90.59 L597.32 89.34 L598.91 90.94 L600.51 87.08 L602.1 88.33 L603.69 89.43 L605.29 89.5 L606.88 92.43 L608.48 93.94 L610.07 91.88 L611.66 93.52 L613.26 93.98 L614.85 90.63 L616.44 94.55 L618.04 95.04 L619.63 96 L621.23 92.99 L622.82 95.51 L624.41 96.36 L626.01 96.84 L627.6 96.14 L629.19 95.51 L630.79 96.8 L632.38 99.09 L633.98 97.34 L635.57 97.54 L637.16 96.52 L638.76 98.35 L640.35 99.74 L641.94 97.94 L643.54 99.09 L645.13 101.04 L646.73 98.18 L648.32 97.36 L649.91 100.44 L651.51 102.6 L653.1 99.65 L654.69 100 L656.29 99.41 L657.88 97.81 L659.48 97.06 L661.07 100.97 L662.66 98.87 L664.26 99.82 L665.85 96.94 L667.44 93.94 L669.04 95.47 L670.63 97.96 L672.23 99.55 L673.82 99.34 L675.41 95.74 L677.01 98.65 L678.6 96 L680.19 92.65 L681.79 89.4 L683.38 93.72 L684.98 93.9 L686.57 92.5 L688.16 92.34 L689.76 90.35 L691.35 89.27 L692.94 90.01 L694.54 89.85 L696.13 88.24 L697.73 89.38 L699.32 90.53 L700.91 91.71 L702.51 91.99 L704.1 92.07 L705.69 94.46 L707.29 92.53 L708.88 92.35 L710.48 90.7 L712.07 92.09 L713.66 96.08 L715.26 92 L716.85 93.18 L718.44 93.63 L720.04 97.92 L721.63 96.68 L723.23 96.23 L724.82 90.83 L726.41 90.82 L728.01 92.05 L729.6 85.54 L731.19 86.1 L732.79 91.48 L734.38 89.81 L735.98 88.69 L737.57 86.8 L739.16 86.98 L740.76 89.97 L742.35 90.77 L743.94 88.5 L745.54 87.8 L747.13 85.38 L748.73 89.55 L750.32 90.07 L751.91 89.8 L753.51 87.35 L755.1 90.7 L756.69 92.25 L758.29 92.2 L759.88 89.7 L761.48 92.38 L763.07 93.77 L764.66 90.5 L766.26 91.35 L767.85 88.6 L769.44 93.22 L771.04 92.23 L772.63 93.14 L774.23 93.22 L775.82 88.45 L777.41 89.13 L779.01 92.46 L780.6 90.8 L782.19 90.73 L783.79 89.56 L785.38 91.1 L786.98 85.32 L788.57 88.61 L790.16 86.32 L791.76 87.39 L793.35 87.79 L794.94 89.13 L796.54 91.11 L798.13 88.75 L799.73 89.16 L801.32 90.3 L802.91 89.96 L804.51 89.24 L806.1 89.58 L807.69 89.24 L809.29 88.31 L810.88 87.51 L812.48 87.67 L814.07 89.5 L815.66 86.69 L817.26 87.46 L818.85 87.69 L820.44 85.13 L822.04 86.52 L823.63 89.31 L825.23 84.77 L826.82 86.2 L828.41 86.21 L830.01 86.86 L831.6 87.83 L833.19 85.97" fill="none" stroke="#0000c8" stroke-width="0.71" stroke-dasharray="3.92 0.5" stroke-linejoin="round"/>
<path d="M119.19 121.74 L120.79 122.4 L122.38 121.94 L123.97 122.84 L125.57 120.85 L127.16 121.49 L128.76 122.07 L130.35 122.71 L131.94 125.68 L133.54 125.17 L135.13 123.53 L136.72 126.09 L138.32 127.16 L139.91 125.56 L141.51 123.3 L143.1 122.22 L144.69 122.6 L146.29 122.1 L147.88 121.41 L149.47 121.04 L151.07 124.71 L152.66 126.8 L154.26 127.31 L155.85 128.86 L157.44 129.28 L159.04 128.05 L160.63 127.18 L162.22 125.75 L163.82 127.24 L165.41 126.45 L167.01 126.27 L168.6 127.66 L170.19 126.38 L171.79 129.15 L173.38 126.48 L174.97 126.64 L176.57 127.39 L178.16 129.11 L179.76 127.33 L181.35 124.89 L182.94 125.76 L184.54 126.51 L186.13 127.98 L187.72 126.42 L189.32 124.74 L190.91 123.87 L192.51 125.22 L194.1 124.65 L195.69 124.02 L197.29 123.29 L198.88 124.73 L200.47 124.41 L202.07 125.17 L203.66 122.51 L205.26 121.61 L206.85 122.01 L208.44 119.58 L210.04 120.42 L211.63 122.43 L213.22 123.95 L214.82 123.53 L216.41 120.24 L218.01 119.17 L219.6 120.31 L221.19 118.4 L222.79 118 L224.38 117.54 L225.97 117.94 L227.57 120.18 L229.16 118.47 L230.76 123.01 L232.35 121.71 L233.94 121.57 L235.54 122.53 L237.13 123.74 L238.72 121.28 L240.32 123.34 L241.91 123.46 L243.51 121.46 L245.1 120.23 L246.69 122.42 L248.29 123.78 L249.88 124.98 L251.47 123.98 L253.07 123.79 L254.66 123.04 L256.26 123.85 L257.85 126.59 L259.44 124.48 L261.04 124.73 L262.63 124.15 L264.23 121.63 L265.82 122.04 L267.41 122.02 L269.01 123.14 L270.6 123.66 L272.19 124.3 L273.79 123.32 L275.38 122.36 L276.98 122.01 L278.57 122.48 L280.16 125.01 L281.76 127.61 L283.35 125.46 L284.94 127.65 L286.54 124.93 L288.13 125.92 L289.73 127.08 L291.32 127 L292.91 124.4 L294.51 125.85 L296.1 126.5 L297.69 128.76 L299.29 128.45 L300.88 125.39 L302.48 124.99 L304.07 125.92 L305.66 126.67 L307.26 127.46 L308.85 127.31 L310.44 127.93 L312.04 126.92 L313.63 126.48 L315.23 125.51 L316.82 126.38 L318.41 125.92 L320.01 125.42 L321.6 124.97 L323.19 124.98 L324.79 126.06 L326.38 126.7 L327.98 128.27 L329.57 129.93 L331.16 130.9 L332.76 128.52 L334.35 126.74 L335.94 129.22 L337.54 126.5 L339.13 124.93 L340.73 125.35 L342.32 125.8 L343.91 125.91 L345.51 125.75 L347.1 124.72 L348.69 125.65 L350.29 127.39 L351.88 127.45 L353.48 127 L355.07 128.49 L356.66 127.68 L358.26 126.57 L359.85 124.68 L361.44 123.74 L363.04 125.7 L364.63 123.97 L366.23 127.06 L367.82 124.96 L369.41 126.27 L371.01 127.41 L372.6 126.52 L374.19 123.87 L375.79 126.15 L377.38 129.28 L378.98 128.58 L380.57 129.71 L382.16 127.83 L383.76 125.98 L385.35 127.21 L386.94 127.41 L388.54 125.36 L390.13 129.33 L391.73 129.86 L393.32 129.96 L394.91 127.71 L396.51 124.72 L398.1 126.8 L399.69 130.1 L401.29 129.14 L402.88 124.38 L404.48 127.79 L406.07 123.59 L407.66 125.03 L409.26 126.2 L410.85 127.92 L412.44 126.53 L414.04 124.3 L415.63 125.72 L417.23 128.62 L418.82 128.48 L420.41 129.86 L422.01 129.38 L423.6 128.69 L425.19 129.77 L426.79 127.07 L428.38 126.43 L429.98 131.13 L431.57 128.11 L433.16 130.65 L434.76 131.34 L436.35 131.6 L437.94 130.21 L439.54 131.85 L441.13 128.42 L442.73 125.12 L444.32 128.17 L445.91 127.25 L447.51 130.12 L449.1 130.96 L450.69 130.41 L452.29 131.3 L453.88 131.4 L455.48 130.19 L457.07 130.92 L458.66 132.8 L460.26 134.44 L461.85 126.42 L463.44 126.66 L465.04 126.88 L466.63 127.79 L468.23 126.35 L469.82 123.36 L471.41 130.19 L473.01 129.93 L474.6 128.32 L476.19 129.26 L477.79 129.64 L479.38 129.89 L480.98 129.76 L482.57 126.77 L484.16 124.91 L485.76 126.99 L487.35 129 L488.94 131.54 L490.54 132.61 L492.13 130.97 L493.73 131.42 L495.32 129.17 L496.91 129.42 L498.51 130.05 L500.1 131.12 L501.69 129.46 L503.29 126.55 L504.88 128.72 L506.48 128.77 L508.07 131.27 L509.66 128.15 L511.26 131.51 L512.85 128.3 L514.44 127.84 L516.04 126.41 L517.63 128.96 L519.23 129.86 L520.82 128.68 L522.41 127.7 L524.01 126.54 L525.6 128.18 L527.19 128.26 L528.79 125.5 L530.38 127.36 L531.98 127.3 L533.57 128.47 L535.16 126.99 L536.76 126.28 L538.35 127.62 L539.94 128.96 L541.54 127.69 L543.13 128.3 L544.73 129.34 L546.32 126.97 L547.91 125.27 L549.51 124.9 L551.1 127.89 L552.69 131.68 L554.29 125.49 L555.88 126.88 L557.48 126.78 L559.07 127.56 L560.66 126.6 L562.26 126.32 L563.85 123.63 L565.44 123.7 L567.04 124.96 L568.63 129 L570.23 129.14 L571.82 130.65 L573.41 128.04 L575.01 127.27 L576.6 129.74 L578.19 130.24 L579.79 128.42 L581.38 127.57 L582.98 126.27 L584.57 129.88 L586.16 128.88 L587.76 130.22 L589.35 131.73 L590.94 129.88 L592.54 130.14 L594.13 132.41 L595.73 132.11 L597.32 133.54 L598.91 130.3 L600.51 126.7 L602.1 128.11 L603.69 128.29 L605.29 129.58 L606.88 131.33 L608.48 133.42 L610.07 131.16 L611.66 131.57 L613.26 129.78 L614.85 127.11 L616.44 128.98 L618.04 130.78 L619.63 130.12 L621.23 129.24 L622.82 129.98 L624.41 128.71 L626.01 131.29 L627.6 129.41 L629.19 128.91 L630.79 129.35 L632.38 132.22 L633.98 131.15 L635.57 128.45 L637.16 128.2 L638.76 129.92 L640.35 130.06 L641.94 127.34 L643.54 129.13 L645.13 132.53 L646.73 132.48 L648.32 131.38 L649.91 131.64 L651.51 135.92 L653.1 132.48 L654.69 133.81 L656.29 132.45 L657.88 131.36 L659.48 129.5 L661.07 136.3 L662.66 134.68 L664.26 133.06 L665.85 131.67 L667.44 130.52 L669.04 131.46 L670.63 133.31 L672.23 135.13 L673.82 133.85 L675.41 130.47 L677.01 135.55 L678.6 137.13 L680.19 134.16 L681.79 131.32 L683.38 133 L684.98 134.03 L686.57 132.43 L688.16 133.6 L689.76 134.72 L691.35 132.83 L692.94 133.45 L694.54 133.72 L696.13 132.84 L697.73 134.59 L699.32 132.61 L700.91 133.14 L702.51 133.37 L704.1 135.4 L705.69 135.19 L707.29 130.75 L708.88 132.74 L710.48 132.26 L712.07 132.23 L713.66 135.51 L715.26 135.08 L716.85 132.97 L718.44 134.49 L720.04 138.28 L721.63 137.81 L723.23 134.91 L724.82 135 L726.41 134.47 L728.01 134.89 L729.6 130.17 L731.19 131.38 L732.79 137.12 L734.38 133.63 L735.98 132.11 L737.57 131.35 L739.16 130.85 L740.76 133 L742.35 132.32 L743.94 132.1 L745.54 130.51 L747.13 127.96 L748.73 132.21 L750.32 129.53 L751.91 131.24 L753.51 133.97 L755.1 132.59 L756.69 130 L758.29 132.32 L759.88 130.37 L761.48 133 L763.07 132.63 L764.66 128.98 L766.26 130.14 L767.85 128.99 L769.44 131.31 L771.04 130.24 L772.63 130.46 L774.23 128.22 L775.82 125.04 L777.41 127.16 L779.01 129.76 L780.6 129.64 L782.19 127.91 L783.79 128.26 L785.38 128.38 L786.98 126.41 L788.57 125.07 L790.16 125.15 L791.76 125.75 L793.35 126.8 L794.94 127.85 L796.54 127.79 L798.13 125.55 L799.73 124.76 L801.32 126.77 L802.91 126.12 L804.51 126 L806.1 126.51 L807.69 126.33 L809.29 126.19 L810.88 125.03 L812.48 123.45 L814.07 125.74 L815.66 126.38 L817.26 125.44 L818.85 126.48 L820.44 123.11 L822.04 124.25 L823.63 128.11 L825.23 124.52 L826.82 124.62 L828.41 124.65 L830.01 125.87 L831.6 125.32 L833.19 123.52" fill="none" stroke="#000096" stroke-width="0.99" stroke-dasharray="5.48 0.7" stroke-linejoin="round"/>
<path d="M119.19 146.46 L120.79 144.29 L122.38 146.38 L123.97 145.57 L125.57 144.66 L127.16 144.85 L128.76 144.32 L130.35 142.43 L131.94 144.11 L133.54 143.05 L135.13 143.03 L136.72 145.27 L138.32 146.29 L139.91 145.6 L141.51 145.48 L143.1 143.52 L144.69 142.92 L146.29 142.06 L147.88 143.4 L149.47 141.64 L151.07 148.17 L152.66 147.7 L154.26 147.82 L155.85 150.55 L157.44 149.85 L159.04 146.41 L160.63 147.47 L162.22 145.17 L163.82 147.72 L165.41 146.43 L167.01 145.89 L168.6 147.08 L170.19 145.98 L171.79 148.66 L173.38 145.63 L174.97 149.73 L176.57 147.98 L178.16 149.69 L179.76 147.87 L181.35 147.38 L182.94 148.4 L184.54 148 L186.13 149.02 L187.72 147.32 L189.32 146.11 L190.91 144.44 L192.51 149.02 L194.1 147.03 L195.69 146.97 L197.29 144.31 L198.88 147.44 L200.47 146.61 L202.07 146.34 L203.66 145.08 L205.26 143.22 L206.85 140.58 L208.44 141.63 L210.04 141.38 L211.63 144.2 L213.22 147.38 L214.82 145.95 L216.41 142.66 L218.01 141.06 L219.6 145.06 L221.19 140 L222.79 139.51 L224.38 137.71 L225.97 138.83 L227.57 140.41 L229.16 140.32 L230.76 143.76 L232.35 142.51 L233.94 144.38 L235.54 144.24 L237.13 144.77 L238.72 142.58 L240.32 144.78 L241.91 142.5 L243.51 142.96 L245.1 138.07 L246.69 141.58 L248.29 144.24 L249.88 144.49 L251.47 145.78 L253.07 146.08 L254.66 141.09 L256.26 141.64 L257.85 143.58 L259.44 145.57 L261.04 143.32 L262.63 142.94 L264.23 141.2 L265.82 140.96 L267.41 139.31 L269.01 140.01 L270.6 142.49 L272.19 145.19 L273.79 141.56 L275.38 141.37 L276.98 142.46 L278.57 142.52 L280.16 144.75 L281.76 146.87 L283.35 145.58 L284.94 145.82 L286.54 143.08 L288.13 144.08 L289.73 145.72 L291.32 148.17 L292.91 145.18 L294.51 145.92 L296.1 148.31 L297.69 151.07 L299.29 149.96 L300.88 146.29 L302.48 146.57 L304.07 146.05 L305.66 148.06 L307.26 145.26 L308.85 147.43 L310.44 145.56 L312.04 146.08 L313.63 147.82 L315.23 147.8 L316.82 146.22 L318.41 144.71 L320.01 145.39 L321.6 144.63 L323.19 144.75 L324.79 145.24 L326.38 146.23 L327.98 148.57 L329.57 148.35 L331.16 149.68 L332.76 147.97 L334.35 146.86 L335.94 146.68 L337.54 147.13 L339.13 143.56 L340.73 145.59 L342.32 144.44 L343.91 145.24 L345.51 145.64 L347.1 144.05 L348.69 144.75 L350.29 147.47 L351.88 148.94 L353.48 148.33 L355.07 148.53 L356.66 149.72 L358.26 149.08 L359.85 146.63 L361.44 144.64 L363.04 145 L364.63 143.62 L366.23 144.88 L367.82 144.16 L369.41 147.55 L371.01 146.56 L372.6 146.18 L374.19 143.25 L375.79 146.41 L377.38 148.46 L378.98 147.92 L380.57 147.73 L382.16 148.81 L383.76 145.81 L385.35 145.91 L386.94 145.71 L388.54 146.45 L390.13 145.66 L391.73 149.7 L393.32 150.24 L394.91 147.73 L396.51 144.36 L398.1 144.37 L399.69 148.82 L401.29 149.28 L402.88 145.12 L404.48 147.63 L406.07 147.11 L407.66 146.8 L409.26 147.92 L410.85 149.5 L412.44 148.59 L414.04 145.35 L415.63 146.65 L417.23 147.61 L418.82 150.03 L420.41 150.71 L422.01 150.69 L423.6 147.9 L425.19 148.83 L426.79 147.91 L428.38 146.31 L429.98 151.85 L431.57 149.31 L433.16 152.22 L434.76 152.88 L436.35 151.75 L437.94 148.7 L439.54 151.43 L441.13 148.5 L442.73 147.24 L444.32 148.98 L445.91 150.12 L447.51 150.99 L449.1 153.03 L450.69 148.83 L452.29 152.7 L453.88 150.96 L455.48 149.44 L457.07 151.79 L458.66 153.4 L460.26 155.65 L461.85 146.64 L463.44 149.34 L465.04 148.44 L466.63 147.45 L468.23 146.97 L469.82 143.3 L471.41 151.46 L473.01 151.39 L474.6 148.66 L476.19 151.34 L477.79 150.67 L479.38 151.63 L480.98 150.38 L482.57 147.54 L484.16 146.48 L485.76 148.21 L487.35 149.09 L488.94 152.08 L490.54 151.04 L492.13 150.37 L493.73 149.95 L495.32 149.39 L496.91 152.09 L498.51 149.14 L500.1 150.06 L501.69 150.02 L503.29 147.85 L504.88 148.84 L506.48 148.08 L508.07 151.66 L509.66 149.17 L511.26 151.47 L512.85 145.9 L514.44 147 L516.04 147.83 L517.63 147.71 L519.23 150.25 L520.82 148.71 L522.41 147.59 L524.01 146.23 L525.6 147.74 L527.19 146.85 L528.79 146.08 L530.38 147.62 L531.98 151.01 L533.57 150 L535.16 149.07 L536.76 146.16 L538.35 147.5 L539.94 149.59 L541.54 147.91 L543.13 148.64 L544.73 148.22 L546.32 143.56 L547.91 144.19 L549.51 143.57 L551.1 150.55 L552.69 151.03 L554.29 146.17 L555.88 145.68 L557.48 145.32 L559.07 144.71 L560.66 144.72 L562.26 141.41 L563.85 143.08 L565.44 140.95 L567.04 145.04 L568.63 146.52 L570.23 148.89 L571.82 147.35 L573.41 145.87 L575.01 148.21 L576.6 145.04 L578.19 148.12 L579.79 146.8 L581.38 144.47 L582.98 145.05 L584.57 149.01 L586.16 145.57 L587.76 148.64 L589.35 148.9 L590.94 146.63 L592.54 148.02 L594.13 150.08 L595.73 149.89 L597.32 149.53 L598.91 147.67 L600.51 146.01 L602.1 145.4 L603.69 147.53 L605.29 147.4 L606.88 148.53 L608.48 150.33 L610.07 148.85 L611.66 148.38 L613.26 144.61 L614.85 142.98 L616.44 147.24 L618.04 148.42 L619.63 147.69 L621.23 145.57 L622.82 146.01 L624.41 146.12 L626.01 147.09 L627.6 148.25 L629.19 146.54 L630.79 146.23 L632.38 149.54 L633.98 148.19 L635.57 146.38 L637.16 146.93 L638.76 146.22 L640.35 145.83 L641.94 144.11 L643.54 147.47 L645.13 150.3 L646.73 148.91 L648.32 148.13 L649.91 148.78 L651.51 153.31 L653.1 150.22 L654.69 152.19 L656.29 150.86 L657.88 149.29 L659.48 147.6 L661.07 151.78 L662.66 151.04 L664.26 148.34 L665.85 147.53 L667.44 146.4 L669.04 149.65 L670.63 150.86 L672.23 152.67 L673.82 152.36 L675.41 146.92 L677.01 154.4 L678.6 154.56 L680.19 152.86 L681.79 149.7 L683.38 152.09 L684.98 153.07 L686.57 148.13 L688.16 152.77 L689.76 153.32 L691.35 151.94 L692.94 153.95 L694.54 153.09 L696.13 150.36 L697.73 151.93 L699.32 150.27 L700.91 151.03 L702.51 152.22 L704.1 154.33 L705.69 153.37 L707.29 149.87 L708.88 150.4 L710.48 151.81 L712.07 151.03 L713.66 153.21 L715.26 151.38 L716.85 151.31 L718.44 152.19 L720.04 157.13 L721.63 156 L723.23 154.88 L724.82 152.43 L726.41 152.73 L728.01 153.47 L729.6 148.1 L731.19 150.58 L732.79 156.05 L734.38 155.14 L735.98 152.13 L737.57 151.71 L739.16 147.33 L740.76 150.26 L742.35 151.98 L743.94 151.03 L745.54 150.08 L747.13 148.4 L748.73 150.44 L750.32 147.89 L751.91 146.98 L753.51 149.98 L755.1 150.98 L756.69 150.4 L758.29 149.54 L759.88 147.7 L761.48 153.58 L763.07 149.16 L764.66 146.71 L766.26 147.26 L767.85 146.59 L769.44 147.95 L771.04 147.73 L772.63 146.39 L774.23 144.44 L775.82 142.09 L777.41 145.01 L779.01 147.41 L780.6 146.82 L782.19 144.74 L783.79 145.84 L785.38 147.17 L786.98 142.58 L788.57 145.76 L790.16 144.11 L791.76 146.25 L793.35 145.79 L794.94 146.72 L796.54 148.94 L798.13 146.23 L799.73 146.03 L801.32 144.51 L802.91 145.41 L804.51 146.1 L806.1 144.83 L807.69 145.53 L809.29 144.61 L810.88 143.97 L812.48 143.32 L814.07 146.52 L815.66 145.33 L817.26 147.26 L818.85 146.41 L820.44 143.59 L822.04 146.72 L823.63 147.63 L825.23 143.74 L826.82 144.52 L828.41 144.56 L830.01 145.54 L831.6 145.01 L833.19 144.07" fill="none" stroke="#000082" stroke-width="1.27" stroke-dasharray="7.05 0.9" stroke-linejoin="round"/>
<path d="M119.19 182.53 L120.79 179.99 L122.38 180.55 L123.97 182.7 L125.57 182 L127.16 183.35 L128.76 178.81 L130.35 177.34 L131.94 179.61 L133.54 179.21 L135.13 179.02 L136.72 179.97 L138.32 181.53 L139.91 180.97 L141.51 182.94 L143.1 180.26 L144.69 181.8 L146.29 177.03 L147.88 177.12 L149.47 177.48 L151.07 182.94 L152.66 184.25 L154.26 183.13 L155.85 187.69 L157.44 184.4 L159.04 183 L160.63 184.59 L162.22 183.03 L163.82 184.49 L165.41 183.38 L167.01 179.86 L168.6 183.15 L170.19 180.52 L171.79 184.44 L173.38 182.63 L174.97 185.46 L176.57 181.39 L178.16 186.93 L179.76 184.79 L181.35 184.38 L182.94 184.32 L184.54 183.11 L186.13 183.93 L187.72 182.52 L189.32 182.35 L190.91 179.06 L192.51 182.44 L194.1 182.23 L195.69 181.71 L197.29 179.86 L198.88 184.2 L200.47 180.41 L202.07 183.15 L203.66 178.41 L205.26 177.09 L206.85 177.37 L208.44 175.38 L210.04 174.94 L211.63 174.49 L213.22 178.59 L214.82 176.87 L216.41 173.76 L218.01 175.84 L219.6 178.74 L221.19 175.3 L222.79 171.93 L224.38 172.67 L225.97 173.57 L227.57 176 L229.16 174.59 L230.76 177.34 L232.35 177.3 L233.94 179.34 L235.54 179.31 L237.13 180.73 L238.72 179.42 L240.32 177.16 L241.91 175.52 L243.51 174.78 L245.1 173.6 L246.69 177.17 L248.29 175.94 L249.88 181.23 L251.47 179.09 L253.07 176.23 L254.66 173.55 L256.26 175.5 L257.85 177.89 L259.44 179.14 L261.04 176.31 L262.63 175.37 L264.23 173.22 L265.82 174.81 L267.41 175.74 L269.01 174.09 L270.6 175.93 L272.19 178.82 L273.79 176.18 L275.38 173.24 L276.98 175.33 L278.57 174.16 L280.16 180.78 L281.76 179.73 L283.35 179.69 L284.94 179.35 L286.54 178.18 L288.13 178.76 L289.73 180.64 L291.32 182.58 L292.91 176.28 L294.51 178.07 L296.1 181.44 L297.69 183.82 L299.29 184.57 L300.88 179.02 L302.48 181.02 L304.07 180.27 L305.66 180.81 L307.26 184.27 L308.85 184.18 L310.44 182.44 L312.04 181.73 L313.63 182.42 L315.23 180.83 L316.82 181.26 L318.41 181.77 L320.01 175.55 L321.6 177.46 L323.19 178.5 L324.79 179.43 L326.38 181.98 L327.98 182.05 L329.57 185.09 L331.16 186.21 L332.76 183.76 L334.35 183.41 L335.94 183.58 L337.54 182.37 L339.13 177.35 L340.73 179.05 L342.32 179.55 L343.91 181.24 L345.51 178.75 L347.1 178.28 L348.69 183.64 L350.29 182.17 L351.88 184.06 L353.48 184.97 L355.07 184.85 L356.66 184.37 L358.26 186.89 L359.85 182.17 L361.44 180.74 L363.04 182.87 L364.63 180.95 L366.23 181.28 L367.82 179.44 L369.41 183.13 L371.01 184.29 L372.6 183.01 L374.19 178.5 L375.79 181.65 L377.38 185.46 L378.98 182.14 L380.57 184.33 L382.16 185.57 L383.76 181.25 L385.35 182.53 L386.94 182.27 L388.54 181.51 L390.13 182.64 L391.73 185.64 L393.32 187.45 L394.91 186.02 L396.51 180.62 L398.1 180.42 L399.69 186.46 L401.29 186.31 L402.88 184.89 L404.48 183.54 L406.07 180.38 L407.66 180.52 L409.26 183.53 L410.85 186.34 L412.44 183.48 L414.04 179.5 L415.63 180.48 L417.23 185.63 L418.82 186.42 L420.41 188.41 L422.01 185.87 L423.6 185.5 L425.19 187.63 L426.79 183.21 L428.38 182.35 L429.98 187.43 L431.57 183.07 L433.16 188.03 L434.76 188.92 L436.35 189.14 L437.94 187.14 L439.54 187.79 L441.13 183.69 L442.73 183.06 L444.32 185.08 L445.91 187.61 L447.51 186.6 L449.1 189.85 L450.69 188.31 L452.29 191.04 L453.88 189.77 L455.48 189.41 L457.07 186.23 L458.66 188.75 L460.26 193.47 L461.85 182.34 L463.44 181.4 L465.04 182.93 L466.63 183.93 L468.23 179.52 L469.82 177.11 L471.41 188.64 L473.01 186.1 L474.6 186.99 L476.19 185.35 L477.79 187.74 L479.38 187.9 L480.98 186.89 L482.57 181.39 L484.16 180.12 L485.76 179.89 L487.35 184.37 L488.94 188.84 L490.54 189.8 L492.13 189.33 L493.73 188.24 L495.32 184.95 L496.91 185.56 L498.51 185.09 L500.1 184.69 L501.69 187.22 L503.29 182.09 L504.88 185.45 L506.48 183.55 L508.07 186.63 L509.66 184.29 L511.26 186.41 L512.85 184.83 L514.44 182.82 L516.04 183.19 L517.63 184.25 L519.23 186.46 L520.82 184.04 L522.41 181.75 L524.01 181.9 L525.6 182.11 L527.19 181.97 L528.79 179.07 L530.38 181.98 L531.98 183.2 L533.57 184.25 L535.16 183.25 L536.76 179.36 L538.35 181.16 L539.94 184.2 L541.54 181.9 L543.13 181.9 L544.73 183.68 L546.32 182.17 L547.91 179.06 L549.51 175.75 L551.1 182.57 L552.69 185.45 L554.29 181.53 L555.88 179.31 L557.48 179.81 L559.07 179.09 L560.66 181.27 L562.26 176.6 L563.85 177.46 L565.44 171.95 L567.04 178.05 L568.63 179.34 L570.23 180.21 L571.82 177.96 L573.41 176.76 L575.01 177.47 L576.6 178.72 L578.19 182.55 L579.79 181.56 L581.38 177.69 L582.98 178.69 L584.57 180.61 L586.16 179.07 L587.76 180.46 L589.35 179.96 L590.94 179.94 L592.54 180.66 L594.13 184.35 L595.73 183.98 L597.32 181.38 L598.91 181.43 L600.51 176.55 L602.1 177.32 L603.69 179 L605.29 178.82 L606.88 181.52 L608.48 184.94 L610.07 181.7 L611.66 182.35 L613.26 179.88 L614.85 174.7 L616.44 178.03 L618.04 182.93 L619.63 179.9 L621.23 178.11 L622.82 179 L624.41 175.96 L626.01 180 L627.6 179.99 L629.19 179.4 L630.79 178.45 L632.38 182.89 L633.98 181.6 L635.57 178.81 L637.16 178.41 L638.76 178.09 L640.35 178.97 L641.94 175.29 L643.54 180.36 L645.13 182.39 L646.73 182.19 L648.32 180.52 L649.91 178.94 L651.51 186.34 L653.1 183.28 L654.69 186.43 L656.29 183.52 L657.88 179.68 L659.48 178.75 L661.07 185.5 L662.66 184.5 L664.26 180.78 L665.85 177.77 L667.44 179.67 L669.04 182.15 L670.63 185.61 L672.23 185.88 L673.82 184.24 L675.41 180.44 L677.01 187.45 L678.6 190.91 L680.19 185.16 L681.79 182.43 L683.38 184.96 L684.98 187.88 L686.57 182.89 L688.16 185.7 L689.76 188.33 L691.35 185.48 L692.94 185.7 L694.54 186.94 L696.13 183.04 L697.73 183.21 L699.32 185.07 L700.91 183.92 L702.51 186.77 L704.1 188.23 L705.69 188.89 L707.29 184.09 L708.88 182.97 L710.48 183.02 L712.07 184.45 L713.66 188.78 L715.26 185.92 L716.85 186.34 L718.44 185.84 L720.04 189.24 L721.63 190.93 L723.23 190.29 L724.82 187.35 L726.41 187.59 L728.01 189.02 L729.6 180.6 L731.19 185.14 L732.79 193.08 L734.38 188.76 L735.98 186.15 L737.57 184.48 L739.16 182.6 L740.76 183.68 L742.35 185.79 L743.94 185.27 L745.54 185.33 L747.13 181.93 L748.73 183.99 L750.32 184.19 L751.91 181 L753.51 184.35 L755.1 187.2 L756.69 188.09 L758.29 185.8 L759.88 184.76 L761.48 188.22 L763.07 184.4 L764.66 180.99 L766.26 183.15 L767.85 179.19 L769.44 181.94 L771.04 181.95 L772.63 178.63 L774.23 177.25 L775.82 174.47 L777.41 177.72 L779.01 181.87 L780.6 182.05 L782.19 181.96 L783.79 181.2 L785.38 181.15 L786.98 179.05 L788.57 180.67 L790.16 178.33 L791.76 179.24 L793.35 181.35 L794.94 180 L796.54 184.59 L798.13 177.77 L799.73 180.04 L801.32 180.97 L802.91 180.5 L804.51 181.56 L806.1 181.61 L807.69 179.67 L809.29 179.37 L810.88 179.76 L812.48 179.1 L814.07 182.34 L815.66 182.54 L817.26 182.01 L818.85 181.54 L820.44 180.17 L822.04 183.3 L823.63 184.04 L825.23 179.69 L826.82 180.85 L828.41 180.78 L830.01 177.84 L831.6 181.65 L833.19 179.88" fill="none" stroke="#000050" stroke-width="1.56" stroke-dasharray="8.62 1.1" stroke-linejoin="round"/>
<path d="M119.19 233.57 L120.79 232.14 L122.38 240.52 L123.97 240.31 L125.57 235.22 L127.16 237.19 L128.76 236.2 L130.35 238.18 L131.94 235.91 L133.54 229.54 L135.13 231.97 L136.72 238.44 L138.32 243.74 L139.91 239.17 L141.51 232 L143.1 228.3 L144.69 239.61 L146.29 231.17 L147.88 227.61 L149.47 230.01 L151.07 236.15 L152.66 236.92 L154.26 240.67 L155.85 239.07 L157.44 235.75 L159.04 241.46 L160.63 238.49 L162.22 235.9 L163.82 243.16 L165.41 239.58 L167.01 234 L168.6 236.95 L170.19 237.62 L171.79 244.23 L173.38 236.49 L174.97 240.45 L176.57 245.19 L178.16 245.62 L179.76 239.02 L181.35 236.29 L182.94 239.5 L184.54 239.4 L186.13 241.25 L187.72 238.03 L189.32 233.59 L190.91 235.35 L192.51 235.83 L194.1 231.34 L195.69 233.26 L197.29 233.81 L198.88 240.8 L200.47 237.66 L202.07 235.19 L203.66 230.59 L205.26 230.02 L206.85 231.3 L208.44 224.34 L210.04 223.46 L211.63 229.98 L213.22 232.1 L214.82 224.66 L216.41 231.09 L218.01 223.45 L219.6 226.92 L221.19 223.12 L222.79 218.4 L224.38 216.7 L225.97 219.87 L227.57 222.76 L229.16 219.93 L230.76 226.29 L232.35 221.23 L233.94 223.91 L235.54 230.41 L237.13 228.83 L238.72 223.43 L240.32 229.95 L241.91 228.73 L243.51 222.07 L245.1 218.27 L246.69 221.68 L248.29 226.63 L249.88 227.5 L251.47 226.06 L253.07 224.88 L254.66 222.61 L256.26 222.72 L257.85 226.16 L259.44 223.83 L261.04 222.66 L262.63 221.4 L264.23 220.29 L265.82 221.76 L267.41 221.72 L269.01 222.45 L270.6 225.84 L272.19 226.44 L273.79 225.71 L275.38 220.95 L276.98 218.15 L278.57 223.31 L280.16 228.18 L281.76 229.6 L283.35 231.82 L284.94 231.11 L286.54 225.56 L288.13 224.22 L289.73 231.61 L291.32 237.9 L292.91 226.16 L294.51 232.6 L296.1 236 L297.69 236.34 L299.29 243.71 L300.88 232.8 L302.48 233.53 L304.07 232.25 L305.66 237.59 L307.26 241.78 L308.85 237.98 L310.44 238.59 L312.04 235.94 L313.63 240.64 L315.23 237.1 L316.82 241.4 L318.41 236.11 L320.01 238.41 L321.6 236.97 L323.19 230.5 L324.79 238.8 L326.38 235.8 L327.98 240.02 L329.57 244.5 L331.16 247.08 L332.76 245.06 L334.35 241.2 L335.94 240.6 L337.54 239.17 L339.13 233.7 L340.73 234.01 L342.32 234.94 L343.91 236.77 L345.51 233.3 L347.1 231.34 L348.69 234.33 L350.29 244.71 L351.88 240.03 L353.48 241.22 L355.07 237.12 L356.66 241.43 L358.26 250.94 L359.85 242.2 L361.44 236.21 L363.04 233.63 L364.63 232.54 L366.23 236.09 L367.82 237.15 L369.41 238.93 L371.01 238.98 L372.6 240.91 L374.19 235.76 L375.79 231.9 L377.38 248.13 L378.98 241.83 L380.57 239.06 L382.16 241.28 L383.76 238.95 L385.35 239.44 L386.94 239.8 L388.54 244.99 L390.13 239.7 L391.73 244.12 L393.32 255.98 L394.91 238.02 L396.51 239.21 L398.1 238.4 L399.69 242.83 L401.29 251.11 L402.88 244.49 L404.48 243.17 L406.07 237.26 L407.66 236.95 L409.26 246.16 L410.85 252.31 L412.44 248.66 L414.04 237.4 L415.63 239.74 L417.23 250.42 L418.82 244.45 L420.41 251.62 L422.01 250.66 L423.6 253.87 L425.19 256.44 L426.79 245.87 L428.38 244.39 L429.98 253.17 L431.57 250.83 L433.16 255.89 L434.76 253.42 L436.35 258.67 L437.94 243.74 L439.54 252.66 L441.13 246.11 L442.73 256.45 L444.32 255.39 L445.91 254.99 L447.51 260.28 L449.1 256.9 L450.69 258.07 L452.29 261.09 L453.88 252.35 L455.48 261.51 L457.07 256.76 L458.66 251.08 L460.26 279.71 L461.85 241.23 L463.44 250.82 L465.04 249.84 L466.63 252.55 L468.23 250.9 L469.82 229.88 L471.41 254.14 L473.01 251.64 L474.6 253.87 L476.19 257.31 L477.79 257.76 L479.38 253.2 L480.98 256.47 L482.57 247.42 L484.16 236.46 L485.76 245.4 L487.35 247.16 L488.94 256.51 L490.54 261.7 L492.13 250.23 L493.73 252.75 L495.32 253.35 L496.91 248.72 L498.51 248.08 L500.1 250.82 L501.69 253.05 L503.29 242.11 L504.88 252.63 L506.48 244.44 L508.07 260.1 L509.66 251.24 L511.26 247.65 L512.85 252.61 L514.44 244.29 L516.04 248.48 L517.63 246.02 L519.23 253.15 L520.82 250.03 L522.41 241.11 L524.01 242.34 L525.6 244.24 L527.19 243.78 L528.79 247.03 L530.38 242.34 L531.98 238.74 L533.57 246.42 L535.16 247.24 L536.76 246.44 L538.35 245.03 L539.94 246.24 L541.54 246.95 L543.13 239.08 L544.73 247.3 L546.32 247.74 L547.91 245.85 L549.51 230.31 L551.1 249.72 L552.69 251.88 L554.29 242.83 L555.88 236.7 L557.48 241.02 L559.07 239.31 L560.66 243.41 L562.26 229.7 L563.85 242.94 L565.44 222.94 L567.04 225.3 L568.63 243.39 L570.23 234.57 L571.82 231.13 L573.41 231.65 L575.01 236.74 L576.6 240.32 L578.19 242.88 L579.79 237.09 L581.38 234.13 L582.98 237 L584.57 243.42 L586.16 241.47 L587.76 234.21 L589.35 234.73 L590.94 240.49 L592.54 242.83 L594.13 245.26 L595.73 243.66 L597.32 233.64 L598.91 232.68 L600.51 232.13 L602.1 234.66 L603.69 229.54 L605.29 236.88 L606.88 244.35 L608.48 242.6 L610.07 238.5 L611.66 239.26 L613.26 237.5 L614.85 222.92 L616.44 228.52 L618.04 235.09 L619.63 238.11 L621.23 231.64 L622.82 231.13 L624.41 235.43 L626.01 236.74 L627.6 235.16 L629.19 235.94 L630.79 229.92 L632.38 243.78 L633.98 227.36 L635.57 232.29 L637.16 233.17 L638.76 232.31 L640.35 230.21 L641.94 225.7 L643.54 232.7 L645.13 242.34 L646.73 235.86 L648.32 235.06 L649.91 240.19 L651.51 241.59 L653.1 235.54 L654.69 245.19 L656.29 242.44 L657.88 238.38 L659.48 229.37 L661.07 238.75 L662.66 234.04 L664.26 229.34 L665.85 229.57 L667.44 234.2 L669.04 240.42 L670.63 240.9 L672.23 236.48 L673.82 245.78 L675.41 234.57 L677.01 249.5 L678.6 247.7 L680.19 237.8 L681.79 241.25 L683.38 242.47 L684.98 244.17 L686.57 242.09 L688.16 249.4 L689.76 248.55 L691.35 244 L692.94 248.55 L694.54 243.69 L696.13 238.99 L697.73 244.7 L699.32 237.84 L700.91 238.77 L702.51 240.51 L704.1 242.32 L705.69 251.61 L707.29 239.06 L708.88 241.42 L710.48 247.85 L712.07 251.01 L713.66 253.68 L715.26 247.51 L716.85 243.05 L718.44 244.56 L720.04 255.64 L721.63 250.73 L723.23 254.7 L724.82 252.44 L726.41 246.54 L728.01 253.71 L729.6 234.84 L731.19 245.38 L732.79 261.3 L734.38 251.33 L735.98 246.59 L737.57 246.59 L739.16 236.64 L740.76 246.6 L742.35 243.9 L743.94 241.8 L745.54 243.54 L747.13 242.23 L748.73 240.64 L750.32 237.86 L751.91 235.04 L753.51 239.41 L755.1 244.8 L756.69 243.74 L758.29 238.69 L759.88 237.6 L761.48 244.69 L763.07 243.44 L764.66 229.56 L766.26 234.19 L767.85 232.89 L769.44 236.6 L771.04 238.22 L772.63 234.75 L774.23 230.64 L775.82 219.39 L777.41 230.11 L779.01 229.08 L780.6 231.61 L782.19 232.4 L783.79 234.42 L785.38 233.68 L786.98 228.08 L788.57 227.75 L790.16 227.53 L791.76 230.93 L793.35 235.32 L794.94 237.11 L796.54 239.84 L798.13 227.5 L799.73 230.82 L801.32 239.75 L802.91 242.52 L804.51 238.83 L806.1 237.87 L807.69 235.77 L809.29 234.55 L810.88 234.61 L812.48 238.1 L814.07 240.1 L815.66 236.6 L817.26 242.01 L818.85 243.65 L820.44 235.29 L822.04 240.51 L823.63 238.5 L825.23 231.35 L826.82 236.78 L828.41 232.74 L830.01 234.2 L831.6 232.97 L833.19 231.76" fill="none" stroke="#000" stroke-width="2.8" stroke-linejoin="round" stroke-linecap="square"/>
</g>
<path d="M196 766h1v5.2h-1zM198 766h1v5.2h-1zM276 766h1v5.2h-1zM278 766h1v5.2h-1zM356 766h1v5.2h-1zM358 766h1v5.2h-1zM435 766h1v5.2h-1zM437 766h1v5.2h-1zM515 766h1v5.2h-1zM517 766h1v5.2h-1zM595 766h1v5.2h-1zM597 766h1v5.2h-1zM674 766h1v5.2h-1zM676 766h1v5.2h-1zM754 766h1v5.2h-1zM756 766h1v5.2h-1zM113.8 642h5.2v1h-5.2zM113.8 644h5.2v1h-5.2zM113.8 491h5.2v1h-5.2zM113.8 493h5.2v1h-5.2zM113.8 340h5.2v1h-5.2zM113.8 342h5.2v1h-5.2zM113.8 189h5.2v1h-5.2zM113.8 191h5.2v1h-5.2zM118 40h1v726h-1zM120 40h1v725h-1zM832 40h1v725h-1zM834 40h1v726h-1zM121 764h711v1h-711zM118 766h717v1h-717z" fill="#000" fill-opacity="0.169"/>
<path d="M197 766h1v5.5h-1zM277 766h1v5.5h-1zM357 766h1v5.5h-1zM436 766h1v5.5h-1zM516 766h1v5.5h-1zM596 766h1v5.5h-1zM675 766h1v5.5h-1zM755 766h1v5.5h-1zM113.5 643h5.5v1h-5.5zM113.5 492h5.5v1h-5.5zM113.5 341h5.5v1h-5.5zM113.5 190h5.5v1h-5.5zM116.5 748h2.5v1h-2.5zM116.5 722h2.5v1h-2.5zM116.5 703h2.5v1h-2.5zM116.5 688h2.5v1h-2.5zM116.5 676h2.5v1h-2.5zM116.5 666h2.5v1h-2.5zM116.5 657h2.5v1h-2.5zM116.5 650h2.5v1h-2.5zM116.5 597h2.5v1h-2.5zM116.5 571h2.5v1h-2.5zM116.5 552h2.5v1h-2.5zM116.5 537h2.5v1h-2.5zM116.5 525h2.5v1h-2.5zM116.5 515h2.5v1h-2.5zM116.5 506h2.5v1h-2.5zM116.5 499h2.5v1h-2.5zM116.5 446h2.5v1h-2.5zM116.5 420h2.5v1h-2.5zM116.5 401h2.5v1h-2.5zM116.5 386h2.5v1h-2.5zM116.5 374h2.5v1h-2.5zM116.5 364h2.5v1h-2.5zM116.5 355h2.5v1h-2.5zM116.5 348h2.5v1h-2.5zM116.5 295h2.5v1h-2.5zM116.5 269h2.5v1h-2.5zM116.5 250h2.5v1h-2.5zM116.5 235h2.5v1h-2.5zM116.5 223h2.5v1h-2.5zM116.5 213h2.5v1h-2.5zM116.5 204h2.5v1h-2.5zM116.5 197h2.5v1h-2.5zM116.5 144h2.5v1h-2.5zM116.5 118h2.5v1h-2.5zM116.5 99h2.5v1h-2.5zM116.5 84h2.5v1h-2.5zM116.5 72h2.5v1h-2.5zM116.5 62h2.5v1h-2.5zM116.5 53h2.5v1h-2.5zM116.5 46h2.5v1h-2.5zM119 39h1v727h-1zM833 39h1v727h-1zM119 765h715v1h-715z" fill="#000"/>
<text transform="translate(197.09 790.8) scale(1 1.08)" font-size="16.667" text-anchor="middle" textLength="20.6" lengthAdjust="spacingAndGlyphs">50</text>
<text transform="translate(277.08 790.8) scale(1 1.08)" font-size="16.667" text-anchor="middle" textLength="31.0" lengthAdjust="spacingAndGlyphs">100</text>
<text transform="translate(356.77 790.8) scale(1 1.08)" font-size="16.667" text-anchor="middle" textLength="31.0" lengthAdjust="spacingAndGlyphs">150</text>
<text transform="translate(436.46 790.8) scale(1 1.08)" font-size="16.667" text-anchor="middle" textLength="31.0" lengthAdjust="spacingAndGlyphs">200</text>
<text transform="translate(516.14 790.8) scale(1 1.08)" font-size="16.667" text-anchor="middle" textLength="31.0" lengthAdjust="spacingAndGlyphs">250</text>
<text transform="translate(595.83 790.8) scale(1 1.08)" font-size="16.667" text-anchor="middle" textLength="31.0" lengthAdjust="spacingAndGlyphs">300</text>
<text transform="translate(675.52 790.8) scale(1 1.08)" font-size="16.667" text-anchor="middle" textLength="31.0" lengthAdjust="spacingAndGlyphs">350</text>
<text transform="translate(755.21 790.8) scale(1 1.08)" font-size="16.667" text-anchor="middle" textLength="31.0" lengthAdjust="spacingAndGlyphs">400</text>
<text transform="translate(68.6 649.8) scale(1 1.08)" font-size="16.667" text-anchor="start">10<tspan font-size="11.667" dx="0.1" dy="-6.0">−8</tspan></text>
<text transform="translate(68.6 498.8) scale(1 1.08)" font-size="16.667" text-anchor="start">10<tspan font-size="11.667" dx="0.1" dy="-6.0">−7</tspan></text>
<text transform="translate(68.6 347.8) scale(1 1.08)" font-size="16.667" text-anchor="start">10<tspan font-size="11.667" dx="0.1" dy="-6.0">−6</tspan></text>
<text transform="translate(68.6 196.8) scale(1 1.08)" font-size="16.667" text-anchor="start">10<tspan font-size="11.667" dx="0.1" dy="-6.0">−5</tspan></text>
<text transform="translate(476 815.8) scale(1 1.1)" font-size="16.667" text-anchor="middle">Binned row index</text>
<text transform="translate(55.6 402.7) rotate(-90) scale(1 1.1)" font-size="16.667" text-anchor="middle" textLength="361.6" lengthAdjust="spacing">NO₂ tropospheric vertical column [mol m⁻²]</text>
<rect x="119" y="17.07" width="714" height="22.33" rx="2.33" ry="2.33" fill="#fff" fill-opacity="0.8" stroke="#ccc" stroke-opacity="0.8" stroke-width="1.667"/>
<rect x="119" y="38" width="715" height="1" fill="#dadada"/><rect x="119" y="39" width="715" height="1" fill="#878787"/><rect x="121" y="40" width="711" height="1" fill="#000" fill-opacity="0.13"/>
<path d="M124.2 27.5 h23.3" stroke="#0000ff" stroke-opacity="0.25" stroke-width="0.9" stroke-dasharray="3.7 0.6" fill="none"/>
<text x="156.33" y="32.31" font-size="11.667">1-99%</text>
<path d="M278.1 27.5 h23.3" stroke="#0000ff" stroke-opacity="0.4" stroke-width="1.1" stroke-dasharray="4.6 1.5" fill="none"/>
<text x="310.01" y="32.31" font-size="11.667">5-95%</text>
<path d="M432.06 27.45 h23.3" stroke="#0000ff" stroke-opacity="0.5" stroke-width="1.5" stroke-dasharray="6.3 1.8" fill="none"/>
<text x="463.69" y="32.31" font-size="11.667">10-90%</text>
<path d="M592.76 27.0 h23.3" stroke="#0000ff" stroke-opacity="0.6" stroke-width="1.9" stroke-dasharray="7.3 2.9" fill="none"/>
<text x="625.4" y="32.31" font-size="11.667">25-75%</text>
<path d="M752.9 27.5 h26" stroke="#000" stroke-width="3" fill="none"/>
<text x="786.5" y="32.31" font-size="11.667">Median</text>
</svg></body></html>
